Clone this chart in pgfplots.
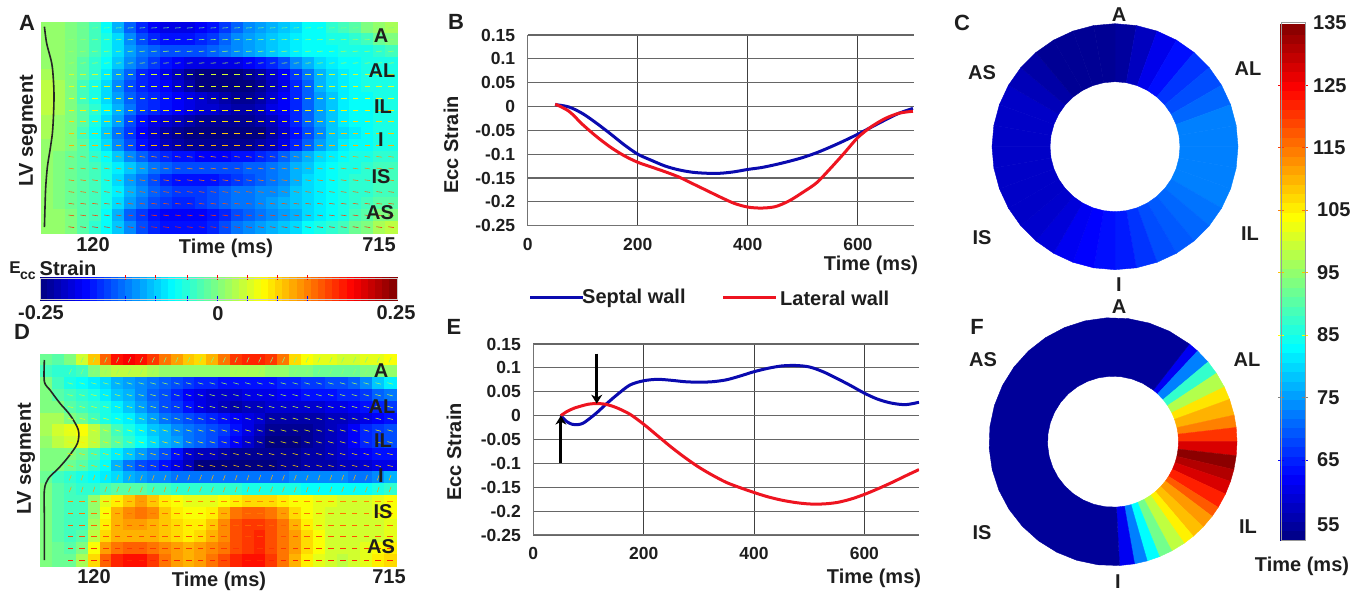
\documentclass[border=0pt]{standalone}
\usepackage{fontspec}
\setmainfont{Liberation Sans}
\usepackage{pgfplots}
\pgfplotsset{compat=1.18}
\usetikzlibrary{arrows.meta}
\definecolor{txt}{RGB}{30,30,30}
\definecolor{sblue}{RGB}{10,10,175}
\definecolor{lred}{RGB}{238,20,32}
\newcommand\fs[1]{\fontsize{#1}{#1}\selectfont\bfseries}
\newcommand\lbl[4][20]{\node[text=txt,inner sep=0pt,font=\fs{#1}] at (#2pt,{(593-#3)*1pt}) {#4};}
\newcommand\rlbl[3]{\node[text=txt,inner sep=0pt,rotate=90,font=\fs{20}] at (#1pt,{(593-#2)*1pt}) {#3};}
% one ring cell: angle from, angle to (degrees, counter-clockwise from the x axis), red, green, blue
\newcommand\segC[5]{\addplot[line width=.4pt,draw={rgb,1:red,#3;green,#4;blue,#5},fill={rgb,1:red,#3;green,#4;blue,#5}] coordinates {(#1,65)(#2,65)(#2,123)(#1,123)(#1,65)};}
\newcommand\segF[5]{\addplot[line width=.4pt,draw={rgb,1:red,#3;green,#4;blue,#5},fill={rgb,1:red,#3;green,#4;blue,#5}] coordinates {(#1,65.5)(#2,65.5)(#2,124)(#1,124)(#1,65.5)};}
% one row of a strain map: row index, strain x 100 of each of the 30 cells
\newcount\hc
\newcommand\hrow[2]{\def\crd{}\hc=0\relax
 \pgfplotsforeachungrouped \hv in {#2}{\edef\crd{\crd(\the\hc,#1)[\hv]}\global\advance\hc by 1\relax}%
 \edef\temp{\noexpand\addplot[cells,mark size=6pt,point meta=explicit] coordinates {\crd};}\temp
}
% the motion dashes of one row: row index, angle
\newcommand\drow[2]{\def\crd{}%
 \pgfplotsforeachungrouped \hv in {2,3,4,5,6,7,8,9,10,11,12,13,14,15,16,17,18,19,20,21,22,23,24,25,26,27,28,29}{\edef\crd{\crd(\hv,#1)}}%
 \edef\temp{\noexpand\addplot[only marks,mark=-,mark size=2.8pt,black!65,mark options={line width=.55pt,rotate=#2}] coordinates {\crd};}\temp
}

\pgfplotsset{
 place/.style n args={4}{at={(#1pt,#2pt)},anchor=south west,width=#3pt,height=#4pt,scale only axis},
 heat/.style={hide axis,xmin=-0.5,xmax=29.5,ymin=-0.5,ymax=17.5,y dir=reverse,colormap/jet,point meta min=-25,point meta max=25},
 cells/.style={scatter,only marks,mark=square*,scatter/use mapped color={draw=mapped color,fill=mapped color}},
 line panel/.style={
   xmin=0,ymin=-0.25,ymax=0.15,
   axis x line=bottom,axis y line=left,
   axis line style={draw=black!55,line width=1pt,-},
   xtick={0,200,400,600},xticklabels={0,200,400,600},
   ytick={-0.25,-0.2,-0.15,-0.1,-0.05,0,0.05,0.1,0.15},
   yticklabels={-0.25,-0.2,-0.15,-0.1,-0.05,0,0.05,0.1,0.15},
   grid=major,
   x grid style={draw=black!75,line width=1pt},
   y grid style={draw=black!60,line width=1.1pt},
   major tick length=0pt,
   tick label style={font=\fs{17.5},text=txt},
   xticklabel style={yshift=-9pt},
   yticklabel style={xshift=-9pt},
 },
 ring/.style={hide axis,clip=false,data cs=polar},
}

\begin{document}
\begin{tikzpicture}[x=1pt,y=1pt]
\path[use as bounding box] (0,0) rectangle (1365,593);

% ---------- A
\begin{axis}[place={41.7}{360}{355.3}{211},heat]
\hrow{0}{1,1,0,-1,-3,-6,-10,-14,-17,-19,-20,-20,-20,-19,-18,-16,-14,-12,-11,-10,-9,-8,-6,-6,-4,-3,-2,0,1,2}
\hrow{1}{1,1,0,-1,-3,-5,-8,-12,-15,-17,-18,-18,-18,-17,-16,-14,-12,-11,-10,-9,-8,-7,-6,-6,-5,-5,-4,-3,-1,0}
\hrow{2}{1,1,0,-1,-3,-5,-8,-11,-13,-14,-15,-15,-15,-15,-14,-13,-12,-11,-10,-9,-8,-7,-6,-6,-6,-5,-5,-5,-4,-3}
\hrow{3}{1,1,0,-2,-4,-6,-9,-12,-14,-16,-18,-19,-20,-20,-20,-20,-20,-19,-18,-17,-15,-12,-10,-8,-7,-6,-6,-5,-5,-5}
\hrow{4}{2,1,0,-2,-4,-7,-11,-14,-17,-18,-20,-22,-24,-25,-25,-25,-25,-24,-23,-21,-19,-16,-13,-10,-8,-7,-6,-5,-5,-5}
\hrow{5}{3,2,0,-3,-5,-8,-12,-15,-17,-18,-19,-21,-23,-25,-25,-25,-25,-25,-24,-22,-20,-17,-14,-10,-8,-7,-6,-5,-5,-5}
\hrow{6}{3,2,0,-3,-5,-8,-11,-14,-16,-17,-18,-19,-20,-21,-22,-23,-24,-24,-23,-21,-19,-17,-14,-11,-9,-7,-6,-6,-5,-5}
\hrow{7}{3,2,0,-2,-4,-7,-10,-13,-16,-17,-18,-19,-20,-21,-21,-22,-23,-23,-22,-20,-19,-17,-14,-11,-9,-7,-6,-6,-5,-5}
\hrow{8}{2,1,0,-2,-5,-8,-11,-15,-18,-20,-21,-22,-23,-24,-24,-24,-24,-24,-23,-22,-20,-17,-14,-11,-9,-7,-6,-6,-5,-5}
\hrow{9}{2,1,0,-3,-6,-9,-13,-16,-19,-21,-23,-24,-25,-25,-25,-25,-25,-25,-25,-23,-21,-18,-15,-12,-9,-8,-7,-6,-5,-5}
\hrow{10}{1,1,0,-2,-5,-8,-12,-15,-18,-20,-22,-23,-24,-24,-24,-24,-24,-24,-23,-22,-20,-17,-14,-11,-9,-7,-6,-6,-5,-5}
\hrow{11}{1,0,-1,-2,-4,-6,-9,-12,-14,-16,-17,-18,-18,-19,-19,-19,-18,-18,-17,-16,-14,-12,-10,-8,-7,-6,-5,-5,-4,-4}
\hrow{12}{1,0,-1,-2,-3,-5,-7,-9,-11,-13,-14,-15,-15,-15,-15,-15,-15,-14,-14,-13,-12,-10,-9,-7,-6,-5,-5,-4,-3,-3}
\hrow{13}{1,0,-1,-2,-3,-5,-8,-11,-13,-15,-17,-18,-18,-18,-18,-17,-16,-15,-14,-13,-12,-10,-8,-7,-6,-5,-4,-4,-3,-3}
\hrow{14}{1,0,-1,-2,-3,-5,-7,-10,-12,-14,-15,-16,-16,-16,-15,-14,-13,-13,-12,-12,-11,-9,-8,-7,-6,-5,-4,-4,-3,-3}
\hrow{15}{1,0,-1,-2,-3,-5,-8,-11,-13,-15,-16,-17,-17,-16,-15,-14,-13,-13,-12,-11,-10,-9,-8,-7,-6,-5,-4,-3,-2,-2}
\hrow{16}{1,1,0,-2,-3,-6,-10,-14,-16,-18,-19,-19,-19,-19,-18,-17,-15,-14,-13,-12,-11,-10,-8,-7,-6,-5,-3,-2,0,0}
\hrow{17}{1,1,0,-2,-4,-6,-9,-12,-15,-17,-18,-18,-18,-18,-17,-15,-13,-12,-11,-10,-9,-8,-6,-5,-4,-3,-1,0,2,3}
\end{axis}
\begin{axis}[place={41.7}{360}{355.3}{211},heat]
\drow{0}{4}\drow{1}{4}\drow{2}{4}\drow{3}{4}\drow{4}{0}\drow{5}{0}\drow{6}{0}\drow{7}{0}\drow{8}{0}
\drow{9}{0}\drow{10}{0}\drow{11}{-8}\drow{12}{-8}\drow{13}{-8}\drow{14}{-8}\drow{15}{-8}\drow{16}{-8}\drow{17}{-8}
\addplot[black!85,line width=1.6pt,smooth] coordinates {(-0.27,-0.1)(-0.08,1.32)(0.35,3.03)(0.49,4.46)(0.54,5.88)(0.49,7.59)(0.40,9.02)(0.2,10.44)(-0.02,11.86)(-0.16,13.57)(-0.22,15.28)(-0.27,16.99)};
\end{axis}

% ---------- D
\begin{axis}[place={40.7}{27}{355.3}{212},heat]
\hrow{0}{-1,-2,0,4,9,14,18,19,18,16,13,11,9,8,10,13,16,17,17,16,13,8,6,5,5,4,4,5,5,6}
\hrow{1}{-3,-4,-4,-3,0,2,3,3,3,2,1,1,1,1,1,1,2,2,2,1,1,0,0,-1,-1,-1,-1,0,0,1}
\hrow{2}{0,-3,-5,-6,-7,-8,-10,-11,-12,-13,-14,-15,-16,-17,-17,-18,-18,-18,-18,-18,-17,-17,-16,-16,-15,-15,-14,-12,-9,-7}
\hrow{3}{0,-2,-3,-4,-5,-7,-9,-10,-12,-14,-15,-17,-19,-20,-21,-21,-21,-20,-20,-20,-19,-19,-18,-18,-18,-17,-17,-16,-14,-13}
\hrow{4}{0,0,-2,-3,-4,-5,-7,-9,-11,-13,-15,-16,-18,-20,-21,-22,-23,-22,-22,-21,-21,-21,-21,-21,-20,-20,-19,-18,-17,-16}
\hrow{5}{2,2,0,-1,-3,-5,-6,-7,-9,-11,-13,-14,-15,-16,-17,-18,-19,-20,-21,-23,-23,-23,-23,-23,-22,-22,-21,-20,-19,-18}
\hrow{6}{2,4,5,6,3,0,-3,-5,-7,-9,-10,-12,-13,-14,-15,-16,-18,-20,-22,-24,-24,-24,-24,-23,-22,-21,-19,-17,-16,-15}
\hrow{7}{1,3,4,5,3,0,-2,-4,-6,-8,-10,-11,-13,-14,-15,-17,-19,-21,-23,-25,-25,-25,-24,-23,-22,-21,-19,-17,-16,-15}
\hrow{8}{0,0,0,-1,-3,-5,-7,-9,-11,-13,-15,-18,-21,-22,-22,-23,-24,-24,-24,-24,-24,-24,-23,-23,-22,-21,-20,-19,-18,-18}
\hrow{9}{0,0,-1,-2,-4,-6,-10,-13,-15,-16,-18,-20,-22,-25,-25,-25,-25,-25,-25,-25,-24,-24,-23,-23,-23,-22,-22,-21,-20,-20}
\hrow{10}{-1,-3,-4,-5,-6,-7,-8,-10,-11,-12,-12,-13,-13,-13,-13,-13,-13,-13,-13,-13,-13,-12,-12,-12,-12,-12,-13,-13,-12,-10}
\hrow{11}{0,-2,-3,-4,-4,-3,-2,-2,-2,-3,-3,-4,-4,-4,-4,-4,-4,-5,-5,-5,-5,-5,-6,-6,-6,-6,-6,-6,-5,-4}
\hrow{12}{0,-2,-3,-3,1,5,7,9,11,9,7,6,5,5,5,6,7,8,8,8,7,6,6,5,5,4,4,4,5,6}
\hrow{13}{0,-2,-3,-3,1,6,10,12,13,12,9,7,6,6,7,10,13,14,14,13,11,8,6,5,4,4,4,4,5,6}
\hrow{14}{0,-2,-3,-3,2,7,10,11,11,10,9,8,7,7,9,12,15,16,16,15,13,10,7,5,4,4,4,4,4,5}
\hrow{15}{0,-2,-3,-2,3,8,10,10,10,10,9,8,7,8,10,12,15,16,17,15,13,11,8,6,4,4,4,4,4,5}
\hrow{16}{0,-1,-2,0,6,11,13,14,14,13,12,11,10,11,12,13,15,16,17,15,13,11,8,6,4,4,4,5,6,7}
\hrow{17}{0,-1,-1,2,8,14,17,18,18,16,13,11,10,11,13,15,17,18,18,16,13,10,7,5,4,3,4,5,7,8}
\end{axis}
\begin{axis}[place={40.7}{27}{355.3}{212},heat]
\drow{0}{65}\drow{1}{65}\drow{2}{-15}\drow{3}{-15}\drow{4}{-15}\drow{5}{-15}\drow{6}{-15}\drow{7}{-15}\drow{8}{-15}
\drow{9}{-15}\drow{10}{70}\drow{11}{70}\drow{12}{0}\drow{13}{0}\drow{14}{0}\drow{15}{0}\drow{16}{0}\drow{17}{0}
\addplot[black!85,line width=1.6pt,smooth] coordinates {(-0.19,0.01)(-0.19,1.85)(0.29,2.56)(1.13,3.69)(1.98,4.68)(2.68,5.96)(2.6,7.09)(1.84,8.23)(0.99,9.22)(0.15,10.07)(-0.19,11.06)(-0.19,13.61)(-0.19,17.0)};
\end{axis}

% ---------- strain colour bar
\begin{axis}[place={40}{294}{357}{21},hide axis,xmin=-0.25,xmax=0.25,ymin=0,ymax=1,colormap/jet,point meta min=-0.25,point meta max=0.25]
\addplot[cells,mark size=3.8pt,mark options={yscale=3},point meta=x] coordinates {(-0.245,0.5)(-0.235,0.5)(-0.225,0.5)(-0.215,0.5)(-0.205,0.5)(-0.195,0.5)(-0.185,0.5)(-0.175,0.5)(-0.165,0.5)(-0.155,0.5)(-0.145,0.5)(-0.135,0.5)(-0.125,0.5)(-0.115,0.5)(-0.105,0.5)(-0.095,0.5)(-0.085,0.5)(-0.075,0.5)(-0.065,0.5)(-0.055,0.5)(-0.045,0.5)(-0.035,0.5)(-0.025,0.5)(-0.015,0.5)(-0.005,0.5)(0.005,0.5)(0.015,0.5)(0.025,0.5)(0.035,0.5)(0.045,0.5)(0.055,0.5)(0.065,0.5)(0.075,0.5)(0.085,0.5)(0.095,0.5)(0.105,0.5)(0.115,0.5)(0.125,0.5)(0.135,0.5)(0.145,0.5)(0.155,0.5)(0.165,0.5)(0.175,0.5)(0.185,0.5)(0.195,0.5)(0.205,0.5)(0.215,0.5)(0.225,0.5)(0.235,0.5)(0.245,0.5)};
\end{axis}
\begin{axis}[place={40}{294}{357}{21},hide axis,xmin=-0.25,xmax=0.25,ymin=0,ymax=1]
\addplot[only marks,mark=|,mark size=2.5pt,black!60,mark options={line width=.6pt}] coordinates {(-0.131,0)(-0.088,0)(-0.044,0)(-0.002,0)(0.04,0)(0.083,0)(0.125,0)(-0.131,1)(-0.088,1)(-0.044,1)(-0.002,1)(0.04,1)(0.083,1)(0.125,1)};
\end{axis}

% ---------- B
\begin{axis}[place={527.7}{367.3}{386.3}{190.7},line panel,xmax=702]
\addplot[sblue,line width=3pt,smooth] coordinates {(50,0.004)(75,-0.001)(100,-0.015)(125,-0.035)(150,-0.057)(175,-0.08)(200,-0.1)(225,-0.113)(250,-0.125)(275,-0.133)(300,-0.138)(325,-0.14)(350,-0.14)(375,-0.137)(400,-0.132)(425,-0.128)(450,-0.122)(475,-0.115)(500,-0.107)(525,-0.097)(550,-0.085)(575,-0.072)(600,-0.058)(625,-0.043)(650,-0.028)(675,-0.014)(700,-0.004)};
\addplot[lred,line width=3pt,smooth] coordinates {(50,0.005)(75,-0.01)(100,-0.038)(125,-0.063)(150,-0.085)(175,-0.103)(200,-0.117)(225,-0.127)(250,-0.137)(275,-0.148)(300,-0.162)(325,-0.176)(350,-0.19)(375,-0.203)(400,-0.211)(425,-0.213)(450,-0.21)(475,-0.198)(500,-0.18)(525,-0.16)(550,-0.13)(575,-0.098)(600,-0.065)(625,-0.042)(650,-0.025)(675,-0.014)(700,-0.01)};
\end{axis}

% ---------- E
\begin{axis}[place={533.3}{58}{385.7}{191},line panel,xmax=699]
\addplot[sblue,line width=3pt,smooth] coordinates {(50,0)(60,-0.012)(70,-0.018)(80,-0.019)(90,-0.016)(100,-0.008)(115,0.006)(130,0.022)(150,0.042)(175,0.064)(200,0.073)(225,0.076)(250,0.074)(275,0.071)(300,0.07)(325,0.071)(350,0.075)(375,0.083)(400,0.092)(425,0.099)(450,0.104)(475,0.105)(500,0.102)(525,0.092)(550,0.078)(575,0.063)(600,0.047)(625,0.034)(650,0.026)(675,0.023)(699,0.028)};
\addplot[lred,line width=3pt,smooth] coordinates {(50,0)(60,0.008)(75,0.016)(100,0.024)(115,0.025)(130,0.024)(150,0.017)(175,0.003)(200,-0.018)(225,-0.042)(250,-0.066)(275,-0.088)(300,-0.108)(325,-0.125)(350,-0.14)(375,-0.151)(400,-0.161)(425,-0.17)(450,-0.177)(475,-0.182)(500,-0.185)(525,-0.185)(550,-0.182)(575,-0.175)(600,-0.165)(625,-0.153)(650,-0.14)(675,-0.126)(699,-0.113)};
\addplot[black,line width=3pt,-{Stealth[length=9pt,width=11pt]}] coordinates {(50,-0.1)(50,0)};
\addplot[black,line width=3pt,-{Stealth[length=9pt,width=11pt]}] coordinates {(115,0.13)(115,0.025)};
\end{axis}

% ---------- C
\begin{axis}[place={992}{323.3}{246}{246},ring,xmin=-123,xmax=123,ymin=-123,ymax=123]
\segC{90}{80}{0}{0}{.62}\segC{80}{70}{0}{0}{.75}\segC{70}{60}{0}{0}{.92}\segC{60}{50}{0}{.05}{1}
\segC{50}{40}{0}{.2}{1}\segC{40}{30}{0}{.3}{1}\segC{30}{20}{0}{.4}{1}\segC{20}{10}{0}{.5}{1}
\segC{10}{0}{0}{.5}{1}\segC{0}{-10}{0}{.5}{1}\segC{-10}{-20}{0}{.5}{1}\segC{-20}{-30}{0}{.5}{1}
\segC{-30}{-40}{0}{.45}{1}\segC{-40}{-50}{0}{.4}{1}\segC{-50}{-60}{0}{.35}{1}\segC{-60}{-70}{0}{.3}{1}
\segC{-70}{-80}{0}{.2}{1}\segC{-80}{-90}{0}{.1}{1}\segC{-90}{-100}{0}{.05}{1}\segC{-100}{-110}{0}{0}{1}
\segC{-110}{-120}{0}{0}{.95}\segC{-120}{-130}{0}{0}{.85}\segC{-130}{-140}{0}{0}{.8}\segC{-140}{-150}{0}{0}{.78}
\segC{-150}{-160}{0}{0}{.78}\segC{-160}{-170}{0}{0}{.78}\segC{-170}{-180}{0}{0}{.78}\segC{-180}{-190}{0}{0}{.78}
\segC{-190}{-200}{0}{0}{.78}\segC{-200}{-210}{0}{0}{.78}\segC{-210}{-220}{0}{0}{.72}\segC{-220}{-230}{0}{0}{.65}
\segC{-230}{-240}{0}{0}{.58}\segC{-240}{-250}{0}{0}{.58}\segC{-250}{-260}{0}{0}{.58}\segC{-260}{-270}{0}{0}{.58}
\end{axis}

% ---------- F
\begin{axis}[place={989}{27.3}{248}{248},ring,xmin=-124,xmax=124,ymin=-124,ymax=124]
\segF{52}{47}{0}{0}{.95}\segF{47}{40}{0}{.5}{1}\segF{40}{33.5}{.2}{1}{.8}\segF{33.5}{26.2}{.7}{1}{.3}
\segF{26.2}{20}{1}{.9}{0}\segF{20}{12.4}{1}{.7}{0}\segF{12.4}{6.6}{1}{.5}{0}\segF{6.6}{0}{1}{.2}{0}
\segF{0}{-6.5}{.85}{0}{0}\segF{-6.5}{-13}{.55}{0}{0}\segF{-13}{-18.7}{.7}{0}{0}\segF{-18.7}{-25}{.85}{0}{0}
\segF{-25}{-32}{1}{.12}{0}\segF{-32}{-37}{1}{.35}{0}\segF{-37}{-43.4}{1}{.6}{0}\segF{-43.4}{-49.7}{1}{.75}{0}
\segF{-49.7}{-55}{1}{.95}{0}\segF{-55}{-61.7}{.75}{1}{.25}\segF{-61.7}{-68}{.45}{1}{.55}\segF{-68}{-74}{0}{1}{1}
\segF{-74}{-80}{0}{.5}{1}\segF{-80}{-87}{0}{0}{.95}
\addplot[line width=.4pt,draw={rgb,1:red,0;green,0;blue,.6},fill={rgb,1:red,0;green,0;blue,.6}] coordinates {(-87,65.5)(-97,65.5)(-107,65.5)(-117,65.5)(-127,65.5)(-137,65.5)(-147,65.5)(-157,65.5)(-167,65.5)(-177,65.5)(-187,65.5)(-197,65.5)(-207,65.5)(-217,65.5)(-227,65.5)(-237,65.5)(-247,65.5)(-257,65.5)(-267,65.5)(-277,65.5)(-287,65.5)(-297,65.5)(-308,65.5)(-308,124)(-297,124)(-287,124)(-277,124)(-267,124)(-257,124)(-247,124)(-237,124)(-227,124)(-217,124)(-207,124)(-197,124)(-187,124)(-177,124)(-167,124)(-157,124)(-147,124)(-137,124)(-127,124)(-117,124)(-107,124)(-97,124)(-87,124)(-87,65.5)};
\end{axis}

% ---------- time colour bar
\begin{axis}[place={1281}{52.3}{24}{518},hide axis,xmin=0,xmax=1,ymin=52.1,ymax=135,colormap/jet,point meta min=52.1,point meta max=135]
\addplot[cells,mark size=5pt,mark options={xscale=2.5},point meta=y] coordinates {(0.5,53)(0.5,54.5)(0.5,56)(0.5,57.5)(0.5,59)(0.5,60.5)(0.5,62)(0.5,63.5)(0.5,65)(0.5,66.5)(0.5,68)(0.5,69.5)(0.5,71)(0.5,72.5)(0.5,74)(0.5,75.5)(0.5,77)(0.5,78.5)(0.5,80)(0.5,81.5)(0.5,83)(0.5,84.5)(0.5,86)(0.5,87.5)(0.5,89)(0.5,90.5)(0.5,92)(0.5,93.5)(0.5,95)(0.5,96.5)(0.5,98)(0.5,99.5)(0.5,101)(0.5,102.5)(0.5,104)(0.5,105.5)(0.5,107)(0.5,108.5)(0.5,110)(0.5,111.5)(0.5,113)(0.5,114.5)(0.5,116)(0.5,117.5)(0.5,119)(0.5,120.5)(0.5,122)(0.5,123.5)(0.5,125)(0.5,126.5)(0.5,128)(0.5,129.5)(0.5,131)(0.5,132.5)(0.5,134)};
\end{axis}
\begin{axis}[place={1281}{52.3}{24}{518},hide axis,xmin=0,xmax=1,ymin=52.1,ymax=135]
\addplot[only marks,mark=-,mark size=3pt,black!60,mark options={line width=.6pt}] coordinates {(0,65)(0,75)(0,85)(0,95)(0,105)(0,115)(0,125)(1,65)(1,75)(1,85)(1,95)(1,105)(1,115)(1,125)};
\end{axis}
\draw[black!40,line width=.6pt] (1281,52.3) rectangle (1305,570.3);
\draw[black!20,line width=.5pt] (40,294) rectangle (397,315);

% ---------- labels of the time colour bar
\node[anchor=west,inner sep=0pt,text=txt,font=\fs{20}] at (1313,570) {135};
\node[anchor=west,inner sep=0pt,text=txt,font=\fs{20}] at (1313,507.5) {125};
\node[anchor=west,inner sep=0pt,text=txt,font=\fs{20}] at (1313,445) {115};
\node[anchor=west,inner sep=0pt,text=txt,font=\fs{20}] at (1317,383) {105};
\node[anchor=west,inner sep=0pt,text=txt,font=\fs{20}] at (1317,320.5) {95};
\node[anchor=west,inner sep=0pt,text=txt,font=\fs{20}] at (1317,258) {85};
\node[anchor=west,inner sep=0pt,text=txt,font=\fs{20}] at (1317,195.5) {75};
\node[anchor=west,inner sep=0pt,text=txt,font=\fs{20}] at (1317,133) {65};
\node[anchor=west,inner sep=0pt,text=txt,font=\fs{20}] at (1317,68) {55};

% ---------- legend of the line panels
\draw[sblue,line width=3pt] (530,295) -- (583,295);
\draw[lred,line width=3pt] (723,295) -- (776,295);
\node[anchor=west,inner sep=0pt,text=txt,font=\fs{20}] at (582,295) {Septal wall};
\node[anchor=west,inner sep=0pt,text=txt,font=\fs{20}] at (780,295) {Lateral wall};

% ---------- texts
\lbl[22]{27}{23}{A}\lbl[22]{456}{22}{B}\lbl[22]{962}{23}{C}
\lbl[22]{22}{332}{D}\lbl[22]{454}{327}{E}\lbl[22]{977}{327}{F}
\lbl{381}{36}{A}\lbl{382}{71}{AL}\lbl{383}{107}{IL}\lbl{381}{140}{I}\lbl{381}{177}{IS}\lbl{380}{213}{AS}
\lbl{381}{371}{A}\lbl{382}{407}{AL}\lbl{383}{441}{IL}\lbl{381}{476}{I}\lbl{383}{512}{IS}\lbl{381}{547}{AS}
\rlbl{28}{131}{LV segment}\rlbl{26}{459}{LV segment}
\lbl{93}{245}{120}\lbl{226}{248}{Time (ms)}\lbl{379}{245}{715}
\lbl{94}{577}{120}\lbl{219}{581}{Time (ms)}\lbl{389}{577}{715}
\lbl[17]{15}{268}{E}\lbl[14]{28}{276}{cc}\lbl{68}{268}{Strain}
\lbl{41}{313}{-0.25}\lbl{218}{314}{0}\lbl{396}{313}{0.25}
\lbl{871}{265}{Time (ms)}\rlbl{451}{145}{Ecc Strain}
\lbl{874}{578}{Time (ms)}\rlbl{454}{452}{Ecc Strain}
\lbl{1119}{15}{A}\lbl{1248}{69}{AL}\lbl{982}{73}{AS}\lbl{982}{238}{IS}\lbl{1250}{234}{IL}\lbl{1119}{285}{I}
\lbl{1119}{307}{A}\lbl{1247}{360}{AL}\lbl{983}{360}{AS}\lbl{982}{533}{IS}\lbl{1248}{527}{IL}\lbl{1118}{582}{I}
\lbl{1302}{566}{Time (ms)}
\end{tikzpicture}
\end{document}
